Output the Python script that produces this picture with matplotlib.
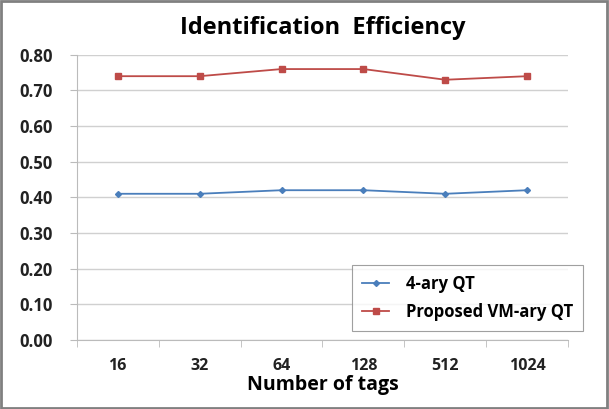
import matplotlib
matplotlib.use('Agg')
from matplotlib import pyplot as plt
from matplotlib.patches import Rectangle

tags = ['16', '32', '64', '128', '512', '1024']
qt4 = [0.41, 0.41, 0.42, 0.42, 0.41, 0.42]
vm_qt = [0.74, 0.74, 0.76, 0.76, 0.73, 0.74]

plt.rcParams['font.family'] = ['Open Sans', 'DejaVu Sans']

fig = plt.figure(figsize=(6.09, 4.09), dpi=100)
ax = fig.add_axes([0.126, 0.169, 0.807, 0.697])

x = range(len(tags))
ax.plot(x, qt4, color='#4a7ebb', marker='D', markersize=3, lw=1.3, label='4-ary QT')
ax.plot(x, vm_qt, color='#be4b48', marker='s', markersize=5, lw=1.3, label='Proposed VM-ary QT')

ax.set_xlim(-0.5, len(tags) - 0.5)
ax.set_ylim(0, 0.8)
ax.set_yticks([i / 10 for i in range(9)])
ax.set_yticklabels(['%.2f' % (i / 10) for i in range(9)], fontsize=12, fontweight='bold', color='#222222')
ax.set_xticks(list(x))
ax.set_xticklabels(tags, fontsize=11.5, fontweight='bold', color='#222222')
ax.tick_params(axis='x', length=0, pad=13)
ax.set_xticks([i + 0.5 for i in range(-1, len(tags))], minor=True)
ax.tick_params(axis='x', which='minor', length=5, color='#bbbbbb', direction='out')
ax.tick_params(axis='y', length=5, color='#bbbbbb', pad=12)
ax.grid(axis='y', color='#d0d0d0', lw=1)
ax.set_axisbelow(True)
for s in ['top', 'right']:
    ax.spines[s].set_visible(False)
ax.spines['left'].set_color('#bbbbbb')
ax.spines['bottom'].set_color('#bbbbbb')

ax.set_xlabel('Number of tags', fontsize=14, fontweight='bold', labelpad=1)
ax.set_title('Identification  Efficiency', fontsize=17, fontweight='bold', pad=15)

leg = ax.legend(loc='lower right', bbox_to_anchor=(1.03, 0.03), frameon=True,
                fancybox=False, edgecolor='#888888', handlelength=1.6, borderpad=0.6,
                labelspacing=0.6, handletextpad=1.0, borderaxespad=0,
                prop={'weight': 'bold', 'size': 12})
leg.get_frame().set_linewidth(0.8)

fig.patches.append(Rectangle((0.002, 0.003), 0.995, 0.994, transform=fig.transFigure,
                             fill=False, edgecolor='#808080', lw=2))

fig.savefig('out.png', dpi=100)
